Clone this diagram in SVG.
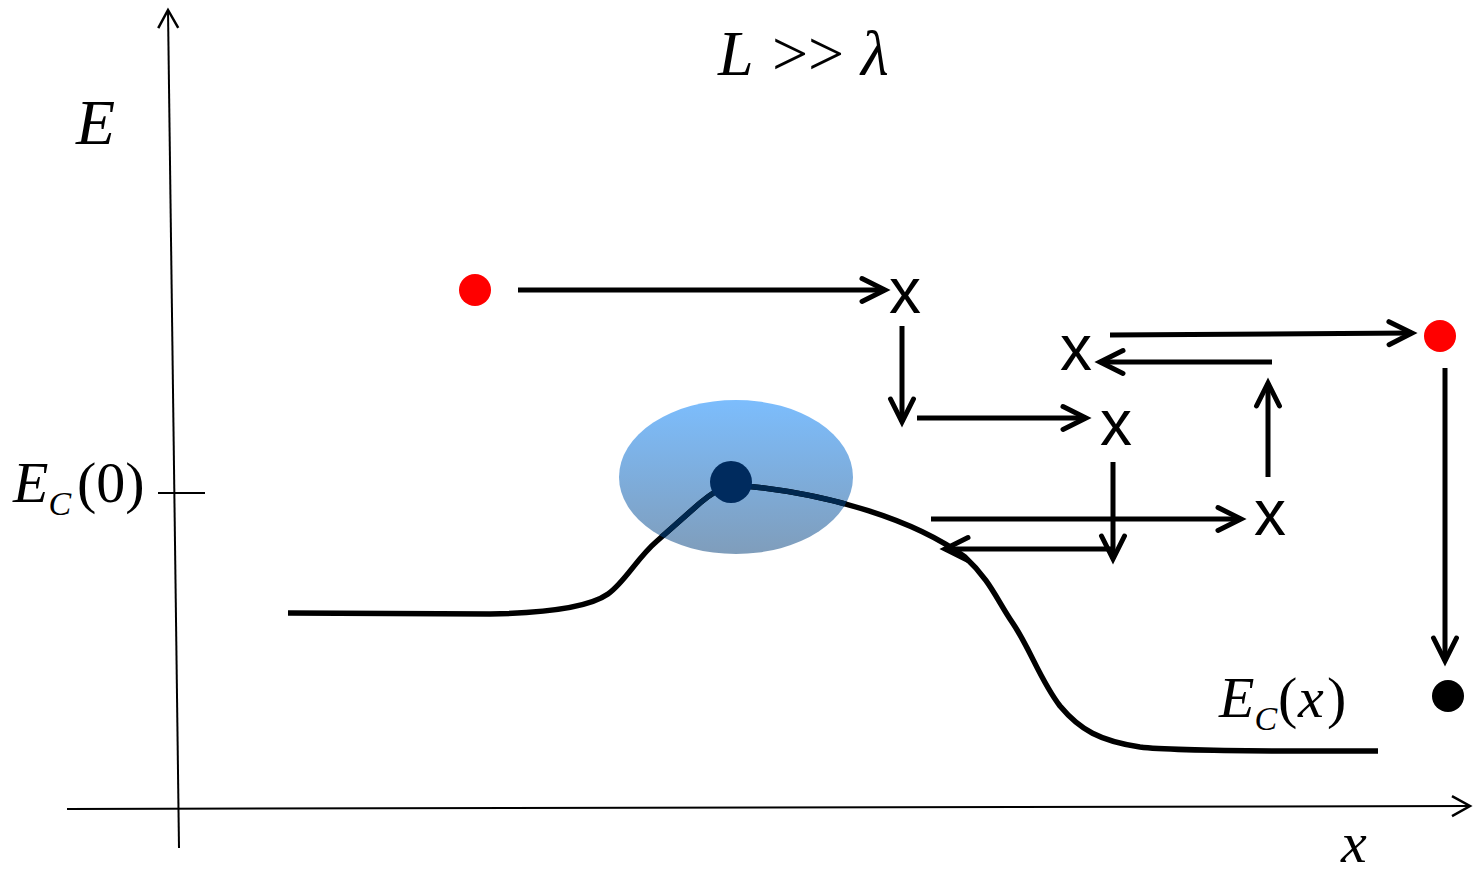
<svg xmlns="http://www.w3.org/2000/svg" width="1473" height="875" viewBox="0 0 1473 875">
<style>
.ax{stroke:#000;stroke-width:2;fill:none}
.arr{stroke:#000;stroke-width:5;fill:none}
.tm{font-family:"Liberation Serif","Times New Roman",serif;font-style:italic;fill:#000}
.tu{font-family:"Liberation Serif","Times New Roman",serif;fill:#000}
.sx{font-family:"Liberation Sans",Arial,sans-serif;font-size:64px;fill:#000;text-anchor:middle}
</style>
<defs>
<marker id="ah" markerUnits="userSpaceOnUse" viewBox="0 0 30 30" markerWidth="30" markerHeight="30" refX="26" refY="15" orient="auto" overflow="visible">
<path d="M3,3.5 L26,15 L3,26.5" fill="none" stroke="#000" stroke-width="5" stroke-linecap="round"/>
</marker>
<marker id="axh" markerUnits="userSpaceOnUse" viewBox="0 0 30 30" markerWidth="30" markerHeight="30" refX="26" refY="15" orient="auto" overflow="visible">
<path d="M8,5 L26,15 L8,25" fill="none" stroke="#000" stroke-width="2.5"/>
</marker>
<linearGradient id="eg" x1="0" y1="0" x2="0" y2="1">
<stop offset="0" stop-color="#7cbdfd"/>
<stop offset="1" stop-color="#7f9dbb"/>
</linearGradient>
<clipPath id="ec"><ellipse cx="736" cy="477" rx="117" ry="77"/></clipPath>
</defs>

<g id="axes">
<line class="ax" x1="179" y1="848" x2="168" y2="10" marker-end="url(#axh)"/>
<line class="ax" x1="67" y1="809" x2="1470" y2="806" marker-end="url(#axh)"/>
<line class="ax" x1="158" y1="493" x2="205" y2="493"/>
</g>

<g id="labels">
<text class="tm" x="76" y="144" font-size="64">E</text>
<text class="tm" x="718" y="75" font-size="64"><tspan x="718">L</tspan><tspan class="tu" font-style="normal" x="772">&gt;&gt;</tspan><tspan x="861">λ</tspan></text>
<text class="tm" x="13" y="502" font-size="58">E<tspan font-size="34" dy="13">C</tspan><tspan class="tu" font-style="normal" dy="-13" x="77">(0)</tspan></text>
<text class="tm" x="1219" y="717" font-size="58">E<tspan font-size="34" dy="13">C</tspan><tspan font-style="normal" dy="-13" x="1278">(</tspan><tspan x="1298">x</tspan><tspan font-style="normal" x="1327">)</tspan></text>
<text class="tm" x="1341" y="862" font-size="58">x</text>
</g>

<g id="ellipse-node">
<ellipse cx="736" cy="477" rx="117" ry="77" fill="url(#eg)"/>
</g>

<g id="curve">
<path d="M288,613 L490,614 C545,613 588,608 608,594 C625,582 637,558 657,541 L700,503 C712,493 722,487 731,484 L745,486 C830,494 915,520 965,557 C990,580 997,600 1012,622 C1030,648 1040,680 1060,706 C1080,730 1100,741 1140,747 C1180,752 1300,751 1378,751" fill="none" stroke="#000" stroke-width="5.5"/>
<path d="M288,613 L490,614 C545,613 588,608 608,594 C625,582 637,558 657,541 L700,503 C712,493 722,487 731,484 L745,486 C830,494 915,520 965,557 C990,580 997,600 1012,622" fill="none" stroke="#01284f" stroke-width="5.5" clip-path="url(#ec)"/>
</g>

<g id="center-dot"><circle cx="731" cy="482" r="21" fill="#002b5e"/></g>
<g id="red-dot-1"><circle cx="475" cy="290" r="16" fill="#ff0000"/></g>
<g id="red-dot-2"><circle cx="1440" cy="336" r="16" fill="#ff0000"/></g>
<g id="black-dot"><circle cx="1448" cy="696" r="16" fill="#000"/></g>

<g id="x1"><text class="sx" x="905" y="313">x</text></g>
<g id="x2"><text class="sx" x="1076" y="370">x</text></g>
<g id="x3"><text class="sx" x="1116" y="445">x</text></g>
<g id="x4"><text class="sx" x="1270" y="535">x</text></g>

<g id="connectors">
<line class="arr" x1="518" y1="290" x2="885" y2="290" marker-end="url(#ah)"/>
<line class="arr" x1="902" y1="326" x2="902" y2="422" marker-end="url(#ah)"/>
<line class="arr" x1="917" y1="418" x2="1086" y2="418" marker-end="url(#ah)"/>
<line class="arr" x1="1113" y1="462" x2="1113" y2="559" marker-end="url(#ah)"/>
<line class="arr" x1="1113" y1="549" x2="945" y2="549" marker-end="url(#ah)"/>
<line class="arr" x1="931" y1="519" x2="1241" y2="519" marker-end="url(#ah)"/>
<line class="arr" x1="1268" y1="477" x2="1268" y2="383" marker-end="url(#ah)"/>
<line class="arr" x1="1272" y1="362" x2="1100" y2="362" marker-end="url(#ah)"/>
<line class="arr" x1="1110" y1="335" x2="1412" y2="333" marker-end="url(#ah)"/>
<line class="arr" x1="1445" y1="368" x2="1445" y2="661" marker-end="url(#ah)"/>
</g>
</svg>
